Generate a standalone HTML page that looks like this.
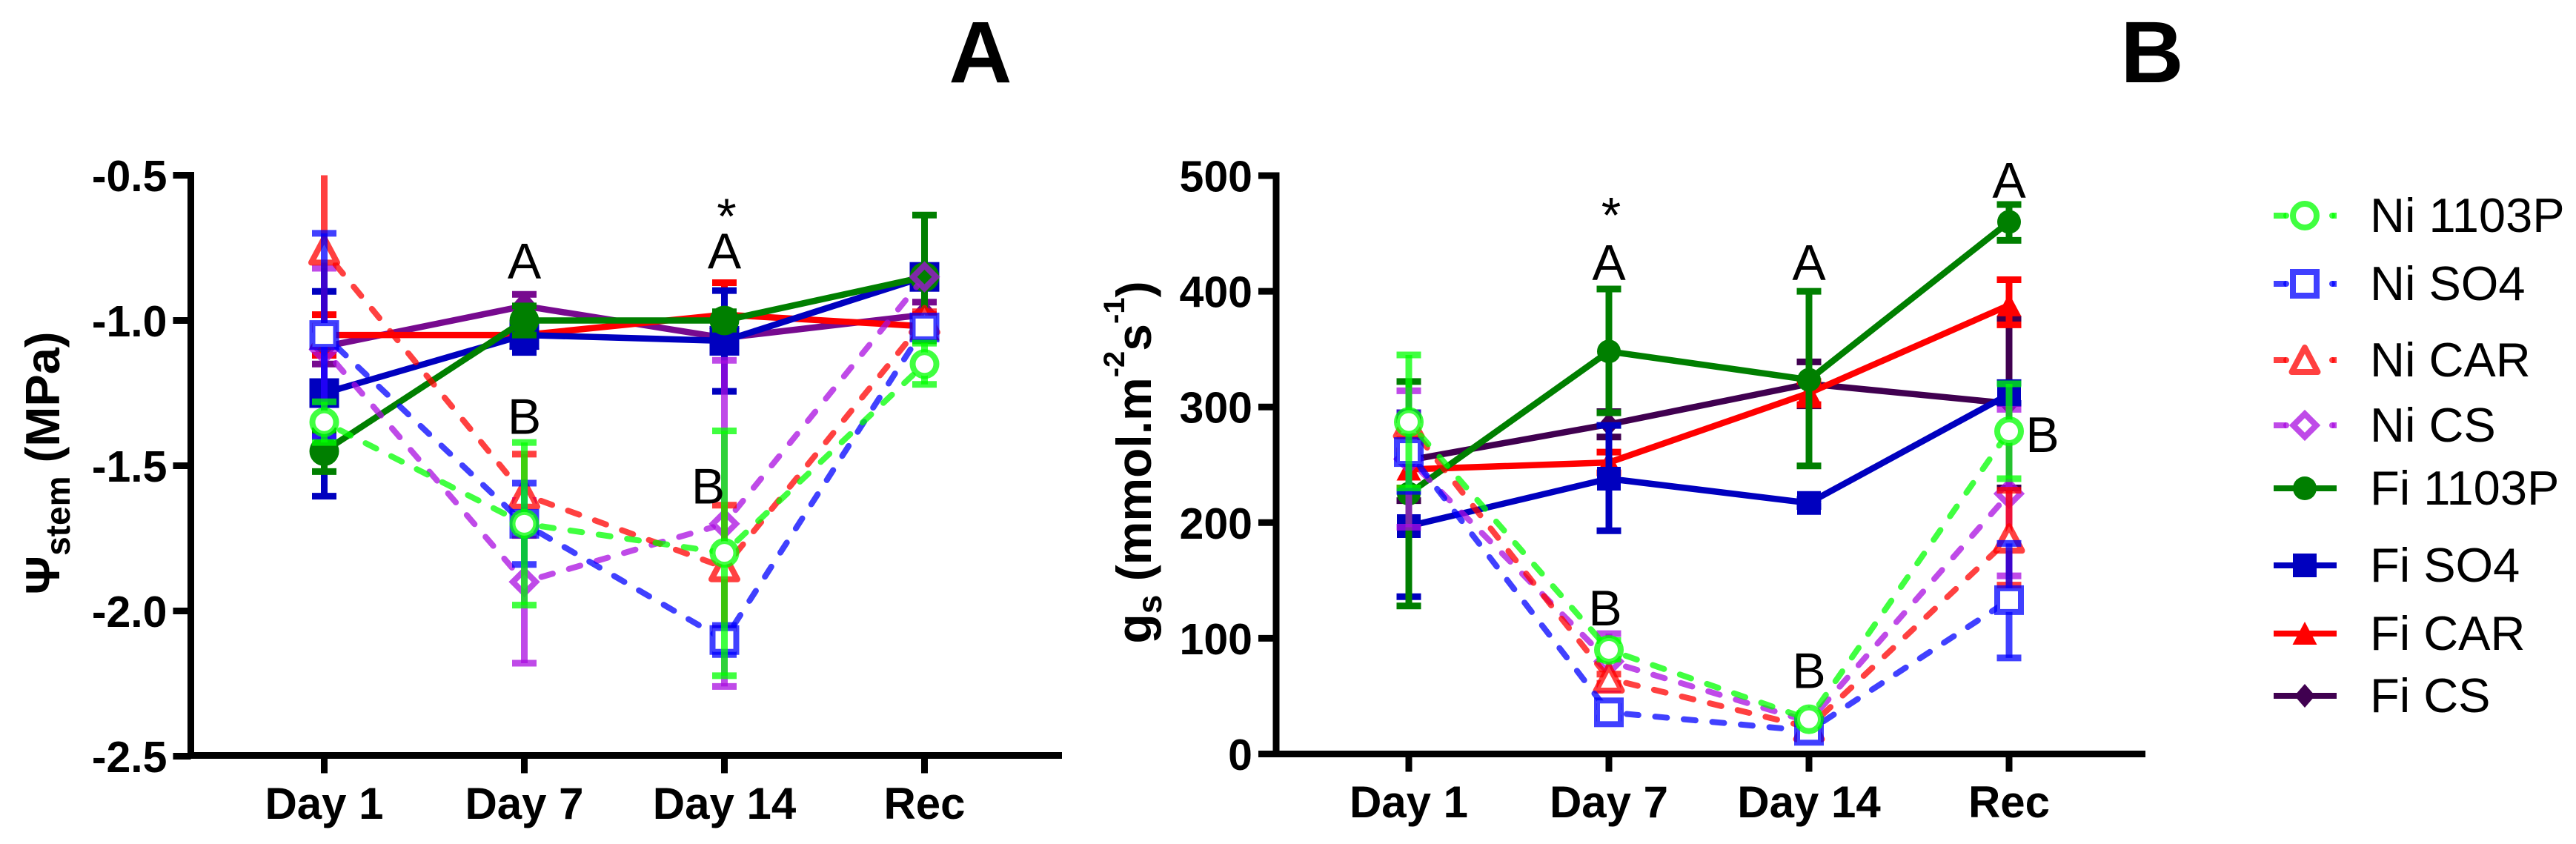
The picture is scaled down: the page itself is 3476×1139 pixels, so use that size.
<!DOCTYPE html>
<html><head><meta charset="utf-8"><title>Stem water potential and stomatal conductance</title>
<style>html,body{margin:0;padding:0;background:#fff}svg{display:block}text{font-family:"Liberation Sans",sans-serif;fill:#000}</style></head>
<body>
<svg id="figure" xmlns="http://www.w3.org/2000/svg" width="3476" height="1139" viewBox="0 0 3476 1139">
<rect width="3476" height="1139" fill="#fff"/>
<text x="1323" y="111" font-size="118" font-weight="700" text-anchor="middle">A</text>
<text x="2904" y="111" font-size="118" font-weight="700" text-anchor="middle">B</text>
<text transform="translate(80,625) rotate(-90)" font-size="65" font-weight="700" text-anchor="middle">Ψ<tspan font-size="46" dy="14">stem</tspan><tspan dy="-14"> (MPa)</tspan></text>
<text transform="translate(1553,624) rotate(-90)" font-size="66" font-weight="700" text-anchor="middle">g<tspan font-size="46" dy="14">s</tspan><tspan dy="-14"> (mmol.m</tspan><tspan font-size="40" dy="-36">-2</tspan><tspan dy="36">s</tspan><tspan font-size="40" dy="-36">-1</tspan><tspan dy="36">)</tspan></text>
</svg>
<script>
const categories = ['Day 1', 'Day 7', 'Day 14', 'Rec'];
const stemTicks = [-0.5, -1.0, -1.5, -2.0, -2.5];
const gsTicks = [500, 400, 300, 200, 100, 0];

const stemFiCS = [-1.09, -0.95, -1.06, -0.98];
const stemFiCSHi = [-1.03, -0.91, -1.03, -0.937];
const stemFiCSLo = [-1.15, -0.99, -1.09, -1.02];
const stemFiCAR = [-1.05, -1.05, -0.98, -1.02];
const stemFiCARHi = [-0.98, -1.00, -0.87, -0.98];
const stemFiCARLo = [-1.12, -1.10, -1.09, -1.06];
const stemFiSO4 = [-1.25, -1.05, -1.07, -0.85];
const stemFiSO4Hi = [-0.90, -0.99, -0.897, -0.83];
const stemFiSO4Lo = [-1.605, -1.11, -1.244, -0.87];
const stemFi1103P = [-1.45, -1.00, -1.00, -0.85];
const stemFi1103PHi = [-1.38, -0.95, -0.97, -0.637];
const stemFi1103PLo = [-1.52, -1.05, -1.03, -1.07];
const stemNiCS = [-1.10, -1.90, -1.70, -0.85];
const stemNiCSHi = [-0.82, -1.62, -1.137, -0.85];
const stemNiCSLo = [-1.40, -2.18, -2.26, -0.85];
const stemNiCAR = [-0.76, -1.60, -1.85, -1.00];
const stemNiCARHi = [-0.50, -1.46, -1.636, -0.97];
const stemNiCARLo = [-1.02, -1.74, -2.06, -1.03];
const stemNiSO4 = [-1.05, -1.70, -2.10, -1.024];
const stemNiSO4Hi = [-0.70, -1.56, -2.05, -1.00];
const stemNiSO4Lo = [-1.40, -1.84, -2.15, -1.05];
const stemNi1103P = [-1.35, -1.70, -1.80, -1.15];
const stemNi1103PHi = [-1.28, -1.42, -1.38, -1.078];
const stemNi1103PLo = [-1.42, -1.98, -2.223, -1.22];

const gsFiCS = [254, 285, 320, 303];
const gsFiCSHi = [289, 296, 339, 376];
const gsFiCSLo = [219, 274, 301, 230];
const gsFiCAR = [246, 252, 312, 388];
const gsFiCARHi = [262, 261, 322, 410];
const gsFiCARLo = [230, 243, 302, 371];
const gsFiSO4 = [197, 238, 217, 311];
const gsFiSO4Hi = [258, 284, 220, 321];
const gsFiSO4Lo = [136, 193, 214, 303];
const gsFi1103P = [225, 348, 323.5, 460];
const gsFi1103PHi = [322, 402, 400, 475];
const gsFi1103PLo = [128, 295, 249, 444];
const gsNiCS = [255, 80, 28, 225];
const gsNiCSHi = [314, 104, 33, 298];
const gsNiCSLo = [196, 56, 23, 154];
const gsNiCAR = [285, 65, 23, 186];
const gsNiCARHi = [295, 69, 27, 228];
const gsNiCARLo = [275, 61, 19, 146];
const gsNiSO4 = [261, 36, 20, 133];
const gsNiSO4Hi = [295, 41, 24, 182];
const gsNiSO4Lo = [227, 31, 16, 83];
const gsNi1103P = [287, 90, 30, 279];
const gsNi1103PHi = [345, 98, 35, 320];
const gsNi1103PLo = [230, 82, 25, 238];

const stemNotes = ['A', '*', 'A', 'B', 'B'];
const stemNoteCats = [1, 2, 2, 1, 2];
const stemNoteVals = [-0.855, -0.70, -0.82, -1.39, -1.63];
const gsNotes = ['*', 'A', 'A', 'A', 'B', 'B', 'B'];
const gsNoteCats = [1, 1, 2, 3, 1, 2, 3];
const gsNoteVals = [451, 410, 410, 481, 111, 57, 261];
const legendLabels = ['Ni 1103P', 'Ni SO4', 'Ni CAR', 'Ni CS', 'Fi 1103P', 'Fi SO4', 'Fi CAR', 'Fi CS'];

const NS = 'http://www.w3.org/2000/svg';
const root = document.getElementById('figure');
function mk(tag, attrs, parent) {
  const el = document.createElementNS(NS, tag);
  for (const k in attrs) el.setAttribute(k, attrs[k]);
  parent.appendChild(el);
  return el;
}
function slug(s) { return s.toLowerCase().replace(/[^a-z0-9]+/g, '-'); }

const styles = {
  'Fi CS': { color: '#400050', kind: 'diamond', open: false },
  'Fi CAR': { color: '#ff0000', kind: 'triangle', open: false },
  'Fi SO4': { color: '#0000bf', kind: 'square', open: false },
  'Fi 1103P': { color: '#007f00', kind: 'circle', open: false },
  'Ni CS': { color: '#aa0de0', kind: 'diamond', open: true },
  'Ni CAR': { color: '#ff0000', kind: 'triangle', open: true },
  'Ni SO4': { color: '#0000ff', kind: 'square', open: true },
  'Ni 1103P': { color: '#00ff00', kind: 'circle', open: true }
};

function drawMarker(g, kind, open, color, op, cx, cy, big) {
  const s = open ? 16 : (big ? 20 : 16);
  const common = open
    ? { fill: kind === 'diamond' ? 'none' : '#fff', stroke: color, 'stroke-opacity': op, 'stroke-width': 8, 'stroke-linejoin': kind === 'triangle' ? 'round' : 'miter' }
    : { fill: color, stroke: 'none' };
  if (kind === 'circle') return mk('circle', Object.assign({ cx: cx, cy: cy, r: s }, common), g);
  if (kind === 'square') return mk('rect', Object.assign({ x: cx - s, y: cy - s, width: 2 * s, height: 2 * s }, common), g);
  if (kind === 'triangle') {
    if (open) {
      return mk('polygon', Object.assign({ points: cx + ',' + (cy - 17) + ' ' + (cx + 17.5) + ',' + (cy + 16) + ' ' + (cx - 17.5) + ',' + (cy + 16) }, common), g);
    }
    return mk('polygon', Object.assign({ points: cx + ',' + (cy - s) + ' ' + (cx + s + 0.5) + ',' + (cy + s - 1) + ' ' + (cx - s - 0.5) + ',' + (cy + s - 1) }, common), g);
  }
  const w = open ? 15.5 : s * 0.87;
  const h = open ? 15.5 : s;
  return mk('polygon', Object.assign({ points: cx + ',' + (cy - h) + ' ' + (cx + w) + ',' + cy + ' ' + cx + ',' + (cy + h) + ' ' + (cx - w) + ',' + cy }, common), g);
}

function drawChart(cfg) {
  const x = function (i) { return cfg.x0 + i * 270; };
  const y = function (v) { return cfg.yBase + (v - cfg.vBase) * cfg.yScale; };
  const chart = mk('g', {}, root);
  
  

  cfg.series.forEach(function (s) {
    const st = styles[s.name];
    const color = (cfg.colors && cfg.colors[s.name]) || st.color;
    const op = st.open ? 0.75 : 1;
    const g = mk('g', {}, chart);
    
    
    if (st.open) {
      s.vals.slice(1).forEach(function (v, k) {
        const x1 = x(k), y1 = y(s.vals[k]), x2 = x(k + 1), y2 = y(v);
        const len = Math.hypot(x2 - x1, y2 - y1);
        const ux = (x2 - x1) / len, uy = (y2 - y1) / len;
        const seg = mk('line', { x1: x1 + ux * 24, y1: y1 + uy * 24, x2: x2 - ux * 16, y2: y2 - uy * 16, stroke: color, 'stroke-opacity': op, 'stroke-width': 8, 'stroke-dasharray': '16 22.7', 'stroke-linecap': 'round' }, g);
        
        
      });
    } else {
      const pts = s.vals.map(function (v, i) { return x(i) + ',' + y(v); }).join(' ');
      const line = mk('polyline', { points: pts, fill: 'none', stroke: color, 'stroke-width': 8.5 }, g);
      
      
    }
    s.vals.forEach(function (v, i) {
      const cx = x(i);
      if (s.hi[i] !== s.lo[i]) {
        const top = Math.max(y(s.hi[i]), y(cfg.vMax));
        const stem = mk('line', { x1: cx, x2: cx, y1: top, y2: y(s.lo[i]), stroke: color, 'stroke-opacity': op, 'stroke-width': 9 }, g);
        
        
        if (s.hi[i] < cfg.vMax) {
          const capHi = mk('line', { x1: cx - 16.5, x2: cx + 16.5, y1: y(s.hi[i]), y2: y(s.hi[i]), stroke: color, 'stroke-opacity': op, 'stroke-width': 9 }, g);
          
          
        }
        const capLo = mk('line', { x1: cx - 16.5, x2: cx + 16.5, y1: y(s.lo[i]), y2: y(s.lo[i]), stroke: color, 'stroke-opacity': op, 'stroke-width': 9 }, g);
        
        
      }
      const m = drawMarker(g, st.kind, st.open, color, op, cx, y(v), cfg.bigMarkers);
      
      
    });
  });

  const yAxis = mk('line', { x1: cfg.axisX, x2: cfg.axisX, y1: y(cfg.ticks[0]) - 4.5, y2: cfg.axisY + 4.5, stroke: '#000', 'stroke-width': 9 }, chart);
  
  
  const xAxis = mk('line', { x1: cfg.axisX - 4.5, x2: cfg.axisEnd, y1: cfg.axisY, y2: cfg.axisY, stroke: '#000', 'stroke-width': 9 }, chart);
  
  

  cfg.ticks.forEach(function (t) {
    const tick = mk('line', { x1: cfg.axisX - 24, x2: cfg.axisX, y1: y(t), y2: y(t), stroke: '#000', 'stroke-width': 9 }, chart);
    
    
    const lab = mk('text', { x: cfg.axisX - 32, y: y(t) + 21.5, 'font-size': 59, 'font-weight': 700, 'text-anchor': 'end' }, chart);
    
    
    lab.textContent = cfg.tickFmt(t);
  });
  categories.forEach(function (c, i) {
    const tick = mk('line', { x1: x(i), x2: x(i), y1: cfg.axisY, y2: cfg.axisY + 24, stroke: '#000', 'stroke-width': 9 }, chart);
    
    
    const lab = mk('text', { x: x(i), y: cfg.axisY + 85.5, 'font-size': 60, 'font-weight': 700, 'text-anchor': 'middle' }, chart);
    
    
    lab.textContent = c;
  });
  cfg.notes.forEach(function (n, i) {
    const dx = cfg.noteDx[i] || 0;
    const t = mk('text', { x: x(cfg.noteCats[i]) + dx, y: y(cfg.noteVals[i]), 'font-size': 68, 'text-anchor': 'middle' }, chart);
    
    
    t.textContent = n;
  });
}

drawChart({
  name: 'stem-water-potential-chart', prefix: 'stem', x0: 437.5, axisX: 257.5, axisEnd: 1433, axisY: 1019.5,
  yBase: 236.5, vBase: -0.5, yScale: -392, vMax: -0.5, ticks: stemTicks, bigMarkers: true,
  colors: { 'Fi CS': '#770a8f' },
  tickFmt: function (t) { return t.toFixed(1); },
  notes: stemNotes, noteCats: stemNoteCats, noteVals: stemNoteVals, noteDx: [0, 3, 0, 0, -22],
  series: [
    { name: 'Fi CS', vals: stemFiCS, hi: stemFiCSHi, lo: stemFiCSLo },
    { name: 'Fi CAR', vals: stemFiCAR, hi: stemFiCARHi, lo: stemFiCARLo },
    { name: 'Fi SO4', vals: stemFiSO4, hi: stemFiSO4Hi, lo: stemFiSO4Lo },
    { name: 'Fi 1103P', vals: stemFi1103P, hi: stemFi1103PHi, lo: stemFi1103PLo },
    { name: 'Ni CS', vals: stemNiCS, hi: stemNiCSHi, lo: stemNiCSLo },
    { name: 'Ni CAR', vals: stemNiCAR, hi: stemNiCARHi, lo: stemNiCARLo },
    { name: 'Ni SO4', vals: stemNiSO4, hi: stemNiSO4Hi, lo: stemNiSO4Lo },
    { name: 'Ni 1103P', vals: stemNi1103P, hi: stemNi1103PHi, lo: stemNi1103PLo }
  ]
});

drawChart({
  name: 'stomatal-conductance-chart', prefix: 'gs', x0: 1901, axisX: 1722, axisEnd: 2895, axisY: 1017.5,
  yBase: 1017.5, vBase: 0, yScale: -1.561, vMax: 500, ticks: gsTicks, bigMarkers: false,
  tickFmt: function (t) { return String(t); },
  notes: gsNotes, noteCats: gsNoteCats, noteVals: gsNoteVals, noteDx: [3, 0, 0, 0, -5, 0, 45],
  series: [
    { name: 'Fi CS', vals: gsFiCS, hi: gsFiCSHi, lo: gsFiCSLo },
    { name: 'Fi CAR', vals: gsFiCAR, hi: gsFiCARHi, lo: gsFiCARLo },
    { name: 'Fi SO4', vals: gsFiSO4, hi: gsFiSO4Hi, lo: gsFiSO4Lo },
    { name: 'Fi 1103P', vals: gsFi1103P, hi: gsFi1103PHi, lo: gsFi1103PLo },
    { name: 'Ni CS', vals: gsNiCS, hi: gsNiCSHi, lo: gsNiCSLo },
    { name: 'Ni CAR', vals: gsNiCAR, hi: gsNiCARHi, lo: gsNiCARLo },
    { name: 'Ni SO4', vals: gsNiSO4, hi: gsNiSO4Hi, lo: gsNiSO4Lo },
    { name: 'Ni 1103P', vals: gsNi1103P, hi: gsNi1103PHi, lo: gsNi1103PLo }
  ]
});

const legendYs = { 'Ni 1103P': 291, 'Ni SO4': 383, 'Ni CAR': 486, 'Ni CS': 574, 'Fi 1103P': 659, 'Fi SO4': 763, 'Fi CAR': 855, 'Fi CS': 939 };
const legend = mk('g', {}, root);


legendLabels.forEach(function (label) {
  const st = styles[label];
  const op = st.open ? 0.75 : 1;
  const ly = legendYs[label];
  const entry = mk('g', {}, legend);
  
  
  if (st.open) {
    mk('line', { x1: 3068, x2: 3085, y1: ly, y2: ly, stroke: st.color, 'stroke-opacity': op, 'stroke-width': 8 }, entry);
    mk('circle', { cx: 3085, cy: ly, r: 4, fill: st.color, 'fill-opacity': op }, entry);
    mk('circle', { cx: 3147, cy: ly, r: 4, fill: st.color, 'fill-opacity': op }, entry);
    mk('line', { x1: 3147, x2: 3153, y1: ly, y2: ly, stroke: st.color, 'stroke-opacity': op, 'stroke-width': 8 }, entry);
  } else {
    mk('line', { x1: 3068, x2: 3153, y1: ly, y2: ly, stroke: st.color, 'stroke-width': 8 }, entry);
  }
  drawMarker(entry, st.kind, st.open, st.color, op, 3110, ly, false);
  const t = mk('text', { x: 3198, y: ly + 22, 'font-size': 65 }, entry);
  
  
  t.textContent = label;
});
</script>
</body></html>
